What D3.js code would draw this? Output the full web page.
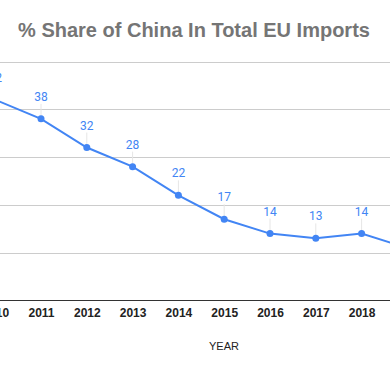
<!DOCTYPE html>
<html>
<head>
<meta charset="utf-8">
<script src="https://cdn.jsdelivr.net/npm/d3@7"></script>
<style>
  body { margin: 0; background: #fff; }
  svg { display: block; }
</style>
</head>
<body>
<svg id="chart"></svg>
<script>
const years = [2010, 2011, 2012, 2013, 2014, 2015, 2016, 2017, 2018, 2019];
const shares = [42, 38, 32, 28, 22, 17, 14, 13, 14, 11];
const yTicks = [0, 10, 20, 30, 40, 50];

const width = 390;
const height = 371;
const lineColor = "#4285f4";

const svg = d3.select("#chart").attr("width", width).attr("height", height);

const data = years.map((y, i) => ({ year: y, value: shares[i] }));

// plot area runs past the visible window on both sides
const x = d3.scaleLinear().domain([2010, 2019]).range([-4.8, 407.4]);
const y = d3.scaleLinear().domain([0, 50]).range([300.5, 61.5]);

// Title
svg
  .append("text")
  .text("% Share of China In Total EU Imports")
  .attr("x", 194)
  .attr("y", 37)
  .attr("text-anchor", "middle")
  .style("font-family", "'Liberation Sans', Arial, sans-serif")
  .style("font-size", "20px")
  .style("font-weight", "bold")
  .style("fill", "#757575");

// Gridlines
svg
  .append("g")
  .selectAll("line")
  .data(yTicks.filter((d) => d > 0))
  .enter()
  .append("line")
  .attr("x1", 0)
  .attr("x2", width)
  .attr("y1", (d) => Math.round(y(d)) + 0.5)
  .attr("y2", (d) => Math.round(y(d)) + 0.5)
  .attr("stroke", "#cccccc")
  .attr("stroke-width", 1);

// Baseline
svg
  .append("line")
  .attr("x1", 0)
  .attr("x2", width)
  .attr("y1", y(0))
  .attr("y2", y(0))
  .attr("stroke", "#333333")
  .attr("stroke-width", 1);

// X axis labels
const xAxis = d3.axisBottom(x).tickValues(years).tickFormat(d3.format("d")).tickSize(0).tickPadding(8);
const xg = svg.append("g").attr("transform", `translate(0,${y(0)})`).call(xAxis);
xg.select(".domain").remove();
xg.selectAll("text")
  .style("font-family", "'Liberation Sans', Arial, sans-serif")
  .style("font-size", "12px")
  .style("font-weight", "bold")
  .style("fill", "#222");

// Axis title
svg
  .append("text")
  .text("YEAR")
  .attr("x", 224)
  .attr("y", 350)
  .attr("text-anchor", "middle")
  .style("font-family", "'Liberation Sans', Arial, sans-serif")
  .style("font-size", "11px")
  .style("fill", "#222");

// Leader lines from labels to points
svg
  .append("g")
  .selectAll("line")
  .data(data)
  .enter()
  .append("line")
  .attr("x1", (d) => x(d.year))
  .attr("x2", (d) => x(d.year))
  .attr("y1", (d) => y(d.value) - 15)
  .attr("y2", (d) => y(d.value))
  .attr("stroke", "#e6e6e6")
  .attr("stroke-width", 1);

// Line
const line = d3
  .line()
  .x((d) => x(d.year))
  .y((d) => y(d.value));

svg
  .append("path")
  .datum(data)
  .attr("d", line)
  .attr("fill", "none")
  .attr("stroke", lineColor)
  .attr("stroke-width", 2);

// Points
svg
  .append("g")
  .selectAll("circle")
  .data(data)
  .enter()
  .append("circle")
  .attr("cx", (d) => x(d.year))
  .attr("cy", (d) => y(d.value))
  .attr("r", 3.5)
  .attr("fill", lineColor);

// Value labels
svg
  .append("g")
  .selectAll("text")
  .data(data)
  .enter()
  .append("text")
  .text((d) => d.value)
  .attr("x", (d) => x(d.year))
  .attr("y", (d) => y(d.value) - 18)
  .attr("text-anchor", "middle")
  .style("font-family", "Roboto, 'Liberation Sans', Arial, sans-serif")
  .style("font-size", "12px")
  .style("fill", lineColor);
</script>
</body>
</html>
